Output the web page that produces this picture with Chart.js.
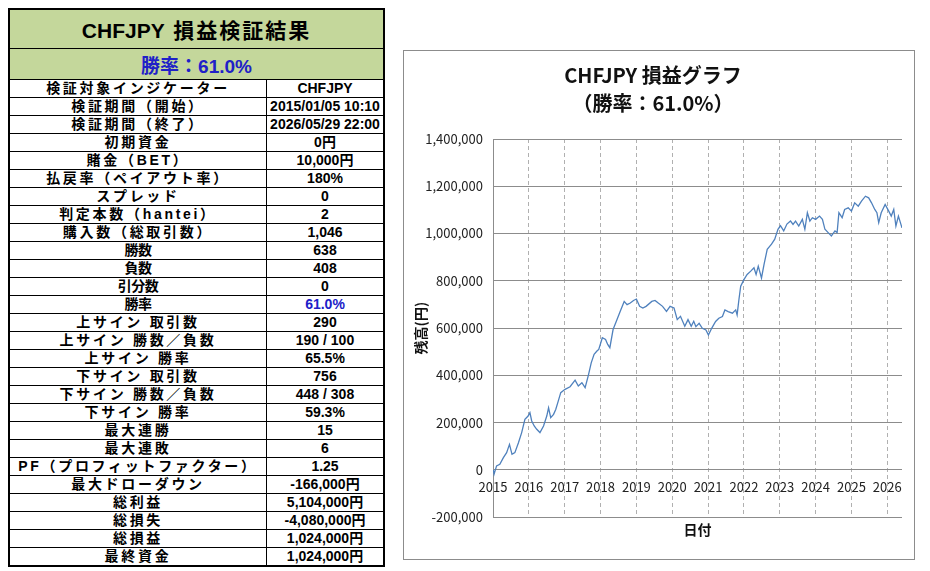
<!DOCTYPE html>
<html lang="ja">
<head>
<meta charset="utf-8">
<script src="https://cdn.jsdelivr.net/npm/chart.js@4.4.1/dist/chart.umd.min.js"></script>
<style>
  html, body { margin: 0; padding: 0; background: #fff; }
  body { width: 930px; height: 571px; position: relative; overflow: hidden; }
  #stats {
    position: absolute; left: 8px; top: 8px; width: 377px;
    border-collapse: collapse; border: 2px solid #000;
    font-family: "Liberation Sans", "Noto Sans CJK JP", sans-serif;
    font-weight: bold; color: #000;
  }
  #stats td { border: 1px solid #000; padding: 0; text-align: center; white-space: nowrap; }
  #stats .head td { height: 38px; background: #c4d79b; font-size: 21px; }
  #stats .head .jp { letter-spacing: 2px; margin-left: 3px; }
  #stats .rate td { height: 30px; background: #c4d79b; font-size: 19px; color: #2020c8; }
  #stats .row td { height: 17px; line-height: 17px; font-size: 14px; }
  #stats .row td.lbl { width: 256px; letter-spacing: 2.7px; }
  #stats .row td.lbl.tight { letter-spacing: -0.5px; }
  #stats .blue { color: #2020c8; }
  #box {
    position: absolute; left: 403px; top: 50px; width: 510px; height: 508px;
    border: 1px solid #8c8c8c;
  }
</style>
</head>
<body>
<table id="stats"></table>
<div id="box"><canvas id="pnlChart"></canvas></div>
<script>
// 検証結果テーブル
const tableTitle = "CHFJPY";
const tableTitleJp = "損益検証結果";
const winRateText = "勝率：61.0%";
const statLabels = [
  "検証対象インジケーター", "検証期間（開始）", "検証期間（終了）", "初期資金",
  "賭金（BET）", "払戻率（ペイアウト率）", "スプレッド", "判定本数（hantei）",
  "購入数（総取引数）", "勝数", "負数", "引分数", "勝率",
  "上サイン 取引数", "上サイン 勝数／負数", "上サイン 勝率",
  "下サイン 取引数", "下サイン 勝数／負数", "下サイン 勝率",
  "最大連勝", "最大連敗", "PF（プロフィットファクター）", "最大ドローダウン",
  "総利益", "総損失", "総損益", "最終資金"
];
const statValues = [
  "CHFJPY", "2015/01/05 10:10", "2026/05/29 22:00", "0円",
  "10,000円", "180%", "0", "2",
  "1,046", "638", "408", "0", "61.0%",
  "290", "190 / 100", "65.5%",
  "756", "448 / 308", "59.3%",
  "15", "6", "1.25", "-166,000円",
  "5,104,000円", "-4,080,000円", "1,024,000円", "1,024,000円"
];

// 損益グラフ
const chartTitle = ["CHFJPY 損益グラフ", "（勝率：61.0%）"];
const xTitle = "日付";
const yTitle = "残高(円)";
const yearTicks = [2015, 2016, 2017, 2018, 2019, 2020, 2021, 2022, 2023, 2024, 2025, 2026];
const years = [
  2015.01, 2015.03, 2015.10, 2015.19, 2015.29, 2015.38, 2015.46, 2015.53, 2015.61, 2015.71,
  2015.80, 2015.89, 2015.98, 2016.03, 2016.08, 2016.15, 2016.22, 2016.31, 2016.41, 2016.50,
  2016.55, 2016.61, 2016.69, 2016.75, 2016.82, 2016.89, 2017.01, 2017.15, 2017.29, 2017.38,
  2017.48, 2017.57, 2017.66, 2017.74, 2017.82, 2017.90, 2017.95, 2018.05, 2018.14, 2018.20,
  2018.26, 2018.35, 2018.46, 2018.55, 2018.66, 2018.74, 2018.83, 2018.92, 2019.00, 2019.09,
  2019.18, 2019.27, 2019.43, 2019.52, 2019.61, 2019.73, 2019.84, 2019.94, 2020.05, 2020.14,
  2020.23, 2020.35, 2020.44, 2020.53, 2020.60, 2020.66, 2020.75, 2020.84, 2020.94, 2021.01,
  2021.10, 2021.21, 2021.30, 2021.40, 2021.47, 2021.56, 2021.68, 2021.77, 2021.81, 2021.86,
  2021.91, 2022.00, 2022.09, 2022.19, 2022.28, 2022.34, 2022.40, 2022.49, 2022.56, 2022.65,
  2022.77, 2022.86, 2022.95, 2023.02, 2023.11, 2023.20, 2023.30, 2023.37, 2023.44, 2023.53,
  2023.63, 2023.70, 2023.77, 2023.84, 2023.91, 2024.00, 2024.11, 2024.19, 2024.26, 2024.35,
  2024.44, 2024.54, 2024.60, 2024.65, 2024.74, 2024.81, 2024.91, 2025.00, 2025.09, 2025.19,
  2025.28, 2025.39, 2025.48, 2025.56, 2025.65, 2025.71, 2025.76, 2025.83, 2025.94, 2026.04,
  2026.11, 2026.18, 2026.24, 2026.31, 2026.41
];
const balance = [
  0, -18000, 17000, 24000, 52000, 73000, 108000, 66000, 73000, 115000,
  158000, 214000, 228000, 242000, 207000, 186000, 172000, 158000, 186000, 228000,
  263000, 221000, 235000, 256000, 291000, 327000, 341000, 352000, 380000, 355000,
  369000, 348000, 400000, 453000, 489000, 503000, 510000, 559000, 552000, 531000,
  517000, 594000, 636000, 671000, 713000, 699000, 706000, 717000, 723000, 692000,
  685000, 692000, 713000, 717000, 706000, 692000, 671000, 692000, 685000, 636000,
  650000, 608000, 636000, 608000, 629000, 606000, 620000, 599000, 592000, 571000,
  599000, 628000, 642000, 649000, 677000, 670000, 663000, 677000, 656000, 720000,
  777000, 805000, 827000, 841000, 855000, 827000, 862000, 812000, 869000, 933000,
  955000, 976000, 1018000, 1033000, 1011000, 1040000, 1053000, 1039000, 1053000, 1032000,
  1060000, 1018000, 1088000, 1053000, 1067000, 1060000, 1074000, 1060000, 1018000, 1004000,
  990000, 1011000, 1004000, 1088000, 1067000, 1102000, 1109000, 1095000, 1130000, 1116000,
  1137000, 1158000, 1151000, 1130000, 1102000, 1088000, 1046000, 1088000, 1123000, 1095000,
  1074000, 1102000, 1032000, 1074000, 1024000
];

// テーブル組み立て
const table = document.getElementById("stats");
let html = '<tr class="head"><td colspan="2">' + tableTitle + ' <span class="jp">' + tableTitleJp + '</span></td></tr>';
html += '<tr class="rate"><td colspan="2">' + winRateText + '</td></tr>';
const tightRows = ["勝数", "負数", "引分数", "勝率"];
statLabels.forEach((label, i) => {
  const cls = tightRows.includes(label) ? "lbl tight" : "lbl";
  const valCls = label === "勝率" ? ' class="blue"' : "";
  html += '<tr class="row"><td class="' + cls + '">' + label + '</td><td' + valCls + '>' + statValues[i] + '</td></tr>';
});
table.innerHTML = html;

// グラフ
Chart.defaults.font.family = "'Noto Sans CJK JP', sans-serif";
Chart.defaults.color = "#222";

const ctx = document.getElementById("pnlChart");
new Chart(ctx, {
  type: "line",
  data: {
    datasets: [
      {
        label: "残高",
        data: years.map((x, i) => ({ x: x, y: balance[i] })),
        borderColor: "#4f81bd",
        borderWidth: 1.3,
        pointRadius: 0,
        tension: 0,
        fill: false,
      },
    ],
  },
  options: {
    responsive: true,
    maintainAspectRatio: false,
    animation: false,
    layout: { padding: { left: 0, right: 12, top: 0, bottom: 21 } },
    plugins: {
      legend: { display: false },
      tooltip: { enabled: false },
      title: {
        display: true,
        text: chartTitle,
        color: "#111",
        font: { size: 20, weight: "bold", lineHeight: 1.4 },
        padding: { top: 10, bottom: 22 },
      },
    },
    scales: {
      x: {
        type: "linear",
        min: 2015,
        max: 2026.41,
        position: { y: 0 },
        afterBuildTicks: (scale) => {
          scale.ticks = yearTicks.map((v) => ({ value: v }));
        },
        ticks: {
          autoSkip: false,
          maxRotation: 0,
          padding: 9,
          font: { size: 13 },
          callback: (v) => String(v),
        },
        grid: { color: "#b0b0b0", drawTicks: false },
        border: { display: false, dash: [4, 3] },
      },
      x2: {
        type: "linear",
        position: "bottom",
        grid: { display: false, drawTicks: false },
        border: { display: false },
        ticks: { display: false },
        title: {
          display: true,
          text: xTitle,
          font: { size: 14, weight: "bold" },
          color: "#111",
          padding: { top: 4, bottom: 0 },
        },
      },
      y: {
        min: -200000,
        max: 1400000,
        afterFit: (scale) => {
          scale.width = 89;
        },
        ticks: {
          stepSize: 200000,
          padding: 10,
          font: { size: 13 },
          callback: (v) => v.toLocaleString("en-US"),
        },
        grid: { color: "#8c8c8c", drawTicks: false },
        border: { display: true, color: "#8c8c8c" },
        title: {
          display: true,
          text: yTitle,
          font: { size: 14, weight: "bold" },
          color: "#111",
          padding: { top: 8, bottom: 0 },
        },
      },
    },
  },
});
</script>
</body>
</html>
